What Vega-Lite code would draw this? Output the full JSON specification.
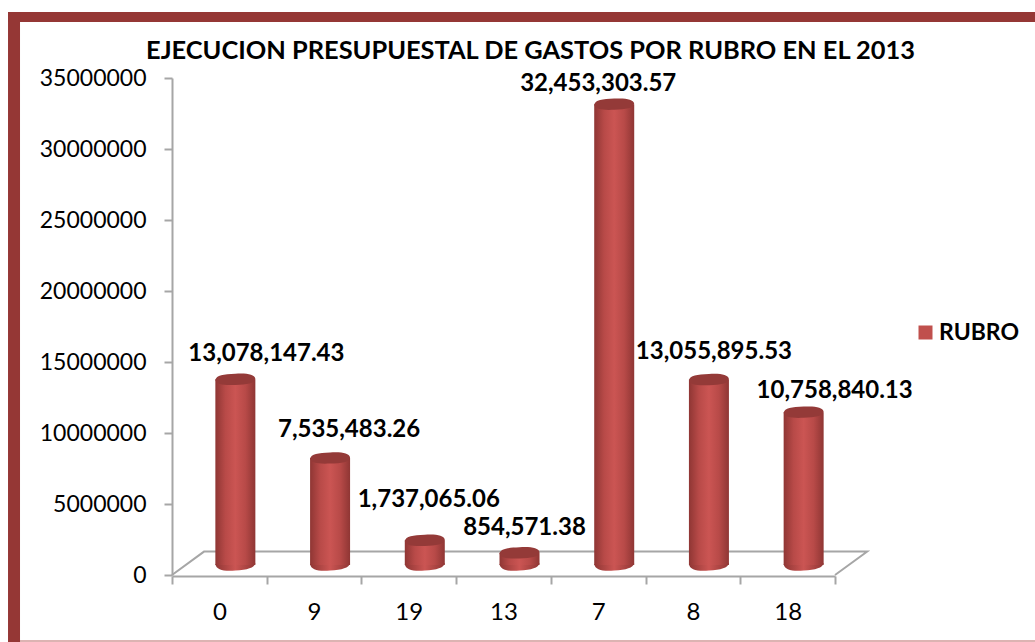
{
"$schema":"https://vega.github.io/schema/vega-lite/v6.json",
"width":1027,"height":630,"autosize":"none","padding":{"left":8,"top":12,"right":0,"bottom":0},
"background":"white",
"config":{"view":{"stroke":null},"font":"Lato"},
"title":{"text":"EJECUCION PRESUPUESTAL DE GASTOS POR RUBRO EN EL 2013","font":"Lato","fontSize":25.4,"fontWeight":"bold","color":"#000000","anchor":"middle","offset":-58,"dx":9},
"datasets":{
"rubros":[
{"rubro":"0","valor":13078147.43,"serie":"RUBRO"},
{"rubro":"9","valor":7535483.26,"serie":"RUBRO"},
{"rubro":"19","valor":1737065.06,"serie":"RUBRO"},
{"rubro":"13","valor":854571.38,"serie":"RUBRO"},
{"rubro":"7","valor":32453303.57,"serie":"RUBRO"},
{"rubro":"8","valor":13055895.53,"serie":"RUBRO"},
{"rubro":"18","valor":10758840.13,"serie":"RUBRO"}
],
"piso":[{"o":1,"p":0,"v":0},{"o":2,"p":0.338,"v":1650000},{"o":3,"p":7.34,"v":1650000},{"o":4,"p":7,"v":0}],
"marco":[{"marco":"borde"}]
},
"resolve":{"scale":{"x":"independent"}},
"layer":[
{"layer":[
{"data":{"name":"marco"},"mark":{"type":"rule","color":"#d09a99","strokeWidth":1.5},"encoding":{"y":{"datum":-4650000,"type":"quantitative","scale":{"domain":[0,35000000],"range":[563,66],"nice":false,"zero":false}}}},
{"data":{"name":"marco"},"mark":{"type":"rule","color":"#953735","strokeWidth":10},"encoding":{"y":{"datum":39300000,"type":"quantitative"}}},
{"data":{"name":"marco"},"mark":{"type":"rule","color":"#953735","strokeWidth":12},"encoding":{"x":{"datum":-1.668,"type":"quantitative","axis":null,"scale":{"domain":[0,7],"range":[164,827],"nice":false,"zero":false}}}},
{"data":{"name":"piso"},"mark":{"type":"line","color":"#a6a6a6","strokeWidth":2},"encoding":{"x":{"field":"p","type":"quantitative","axis":null},"y":{"field":"v","type":"quantitative"},"order":{"field":"o"}}}
]},
{"data":{"name":"rubros"},
"encoding":{
"x":{"field":"rubro","type":"ordinal","title":null,"sort":["0","9","19","13","7","8","18"],
"scale":{"type":"band","range":[164,827],"paddingInner":0,"paddingOuter":0},
"axis":{"offset":-66,"orient":"bottom","labelAngle":0,"labelFontSize":24,"labelColor":"#000000","labelPadding":16,"tickSize":8,"tickWidth":2,"tickColor":"#a6a6a6","domainColor":"#a6a6a6","domainWidth":2,"tickBand":"extent","grid":false,"labelFont":"Lato"}},
"y":{"field":"valor","type":"quantitative","title":null,"stack":null,
"axis":{"offset":-164,"orient":"left","values":[0,5000000,10000000,15000000,20000000,25000000,30000000,35000000],"format":"d","labelFontSize":23,"labelColor":"#000000","labelPadding":18,"tickSize":8,"tickWidth":2,"tickColor":"#a6a6a6","domainColor":"#a6a6a6","domainWidth":2,"grid":false,"labelFont":"Lato"}}
},
"layer":[
{"transform":[{"filter":"false"}],"mark":{"type":"bar"},"encoding":{"color":{"field":"serie","type":"nominal","scale":{"domain":["RUBRO"],"range":["#c0504d"]},"legend":{"title":null,"orient":"none","legendX":906,"legendY":309,"symbolType":"square","symbolSize":196,"symbolStrokeWidth":0,"labelFontSize":23,"labelFontWeight":"bold","labelColor":"#000000","labelFont":"Lato","labelOffset":2}}}},
{"mark":{"type":"point","filled":true,"opacity":1,"size":1600,"xOffset":16,"yOffset":-10,"shape":"M-1,-0.05 C-0.95,0.25 -0.6,0.32 0,0.28 C0.6,0.24 0.95,0.15 1,-0.1 Z","fill":{"gradient":"linear","x1":0,"x2":1,"y1":0,"y2":0,"stops":[{"offset":0,"color":"#8f3634"},{"offset":0.5,"color":"#cb5553"},{"offset":1,"color":"#8f3634"}]},"stroke":null},"encoding":{"y":{"datum":0,"type":"quantitative"}}},
{"mark":{"type":"bar","width":40,"xOffset":16,"yOffset":-10,"y2Offset":-10,"color":{"gradient":"linear","x1":0,"x2":1,"y1":0,"y2":0,"stops":[{"offset":0,"color":"#8f3634"},{"offset":0.25,"color":"#b84a48"},{"offset":0.5,"color":"#cb5553"},{"offset":0.75,"color":"#b84a48"},{"offset":1,"color":"#8f3634"}]}},"encoding":{"y2":{"datum":0}}},
{"mark":{"type":"point","filled":true,"opacity":1,"size":1600,"xOffset":16,"yOffset":-10,"color":"#943a38","shape":"M-1,0.03 C-0.95,-0.2 -0.6,-0.26 0,-0.28 C0.6,-0.31 0.95,-0.25 1,-0.03 C0.95,0.2 0.6,0.26 0,0.28 C-0.6,0.31 -0.95,0.25 -1,0.03 Z"}},
{"transform":[{"filter":"datum.rubro=='0'"}],"mark":{"type":"text","font":"Lato","fontSize":24,"fontWeight":"bold","color":"#000000","baseline":"middle","dx":47,"dy":-35},"encoding":{"text":{"field":"valor","format":",.2f"}}},
{"transform":[{"filter":"datum.rubro=='9'"}],"mark":{"type":"text","font":"Lato","fontSize":24,"fontWeight":"bold","color":"#000000","baseline":"middle","dx":35,"dy":-38},"encoding":{"text":{"field":"valor","format":",.2f"}}},
{"transform":[{"filter":"datum.rubro=='19'"}],"mark":{"type":"text","font":"Lato","fontSize":24,"fontWeight":"bold","color":"#000000","baseline":"middle","dx":20,"dy":-50},"encoding":{"text":{"field":"valor","format":",.2f"}}},
{"transform":[{"filter":"datum.rubro=='13'"}],"mark":{"type":"text","font":"Lato","fontSize":24,"fontWeight":"bold","color":"#000000","baseline":"middle","dx":21,"dy":-35},"encoding":{"text":{"field":"valor","format":",.2f"}}},
{"transform":[{"filter":"datum.rubro=='7'"}],"mark":{"type":"text","font":"Lato","fontSize":24,"fontWeight":"bold","color":"#000000","baseline":"middle","dx":0,"dy":-30},"encoding":{"text":{"field":"valor","format":",.2f"}}},
{"transform":[{"filter":"datum.rubro=='8'"}],"mark":{"type":"text","font":"Lato","fontSize":24,"fontWeight":"bold","color":"#000000","baseline":"middle","dx":21,"dy":-38},"encoding":{"text":{"field":"valor","format":",.2f"}}},
{"transform":[{"filter":"datum.rubro=='18'"}],"mark":{"type":"text","font":"Lato","fontSize":24,"fontWeight":"bold","color":"#000000","baseline":"middle","dx":47,"dy":-31},"encoding":{"text":{"field":"valor","format":",.2f"}}}
]}
]
}
